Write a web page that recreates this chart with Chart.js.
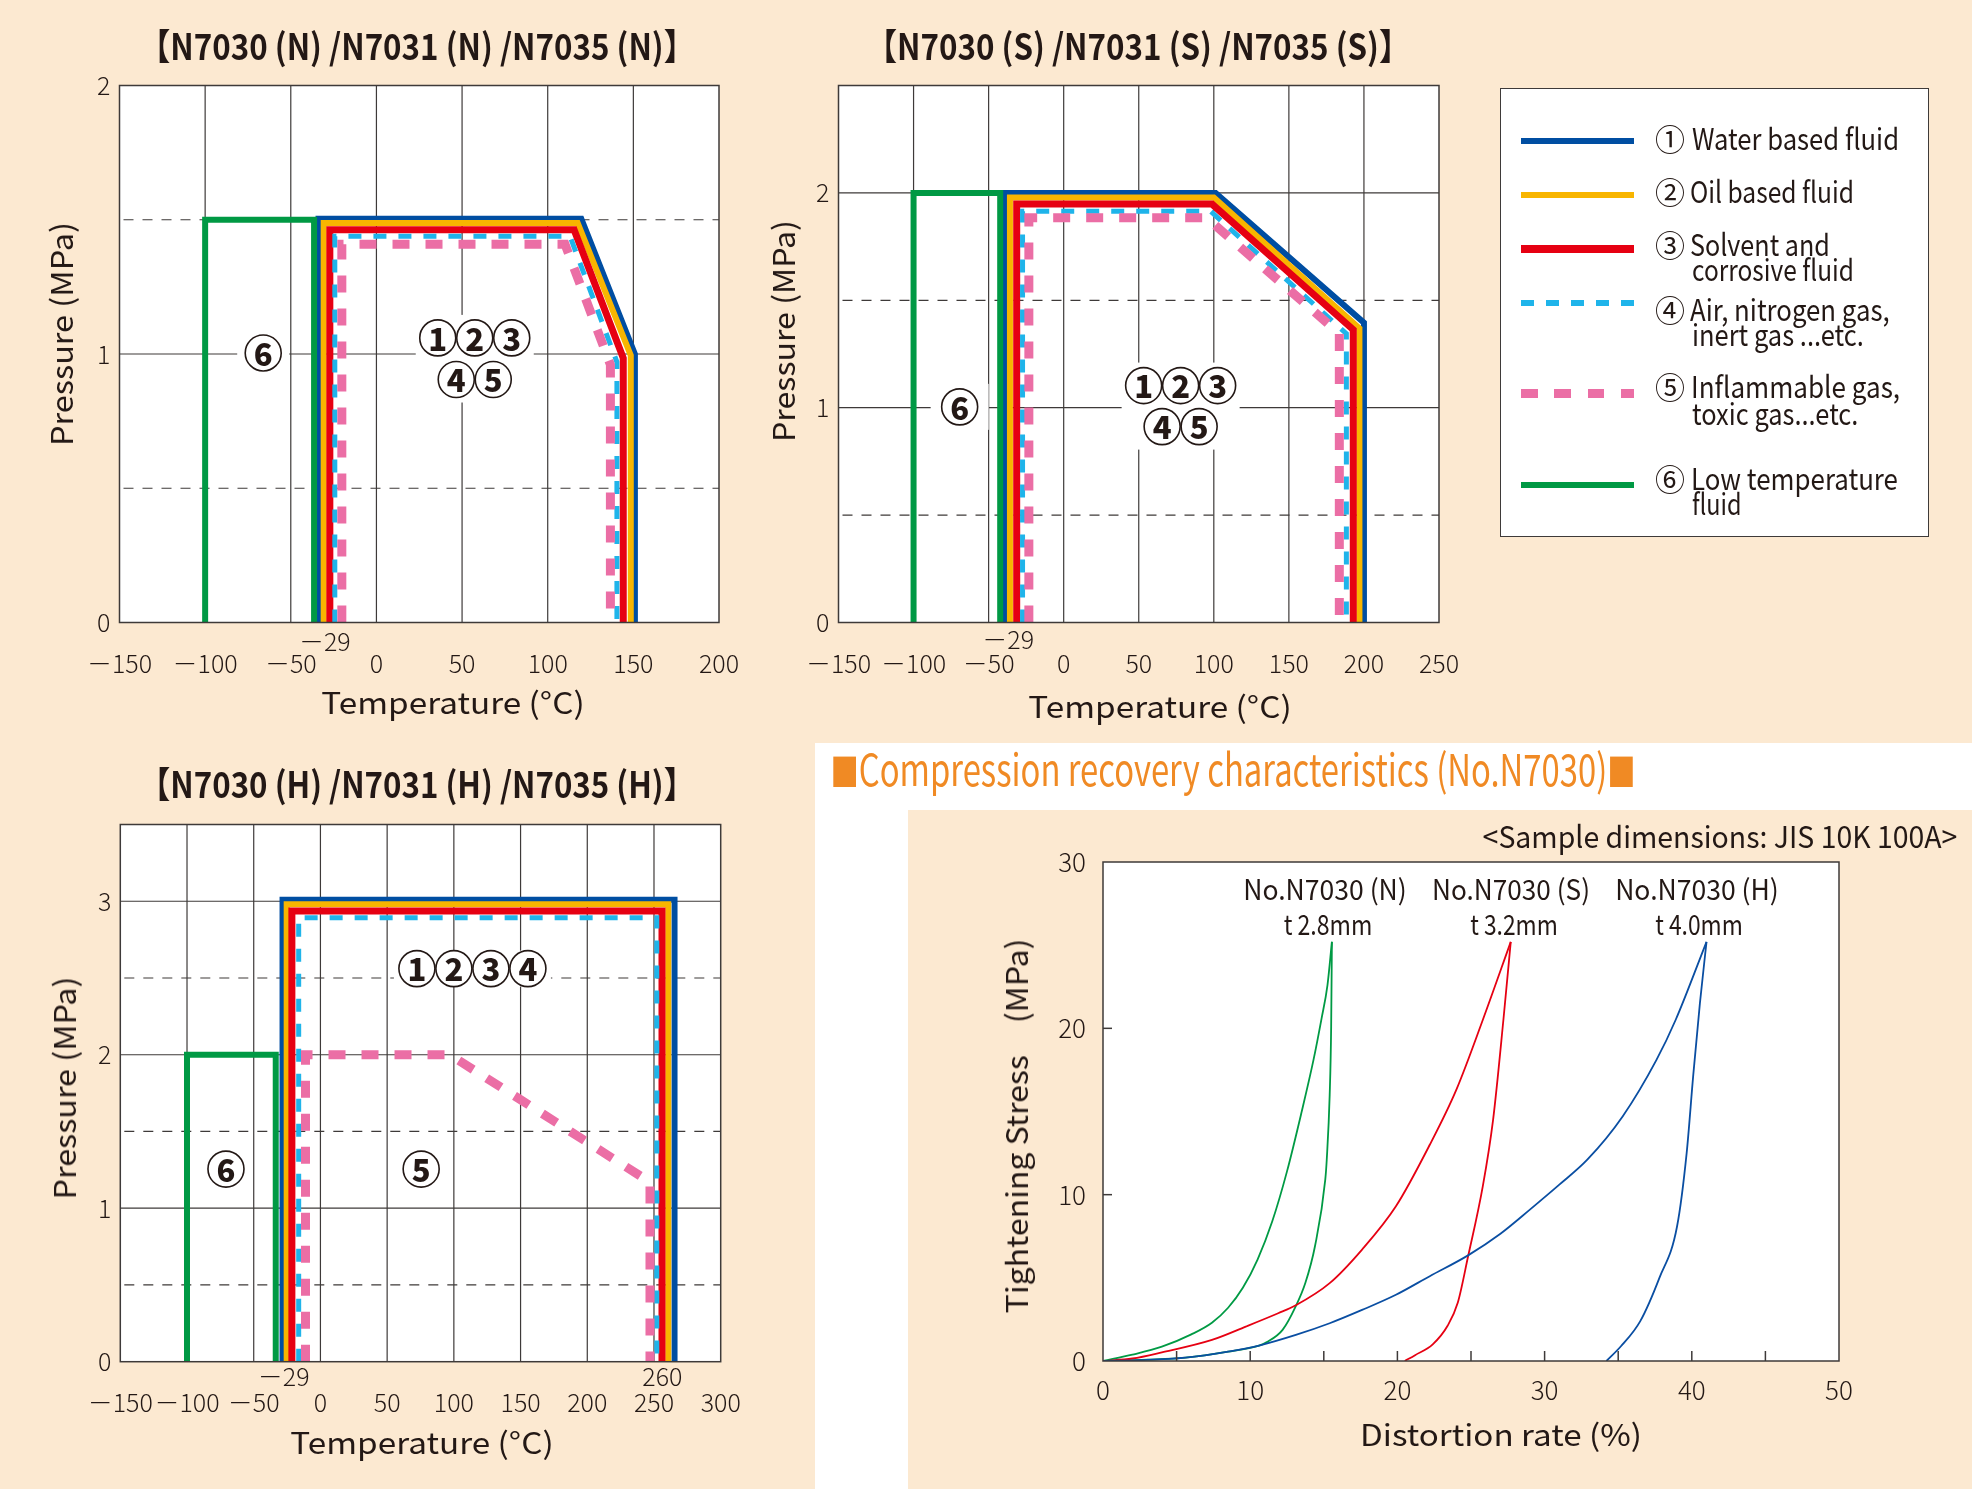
<!DOCTYPE html>
<html><head><meta charset="utf-8">
<script src="https://cdn.jsdelivr.net/npm/chart.js@4.4.1/dist/chart.umd.min.js"></script>
<style>
html,body{margin:0;padding:0}
body{width:1972px;height:1489px;position:relative;overflow:hidden;background:#fce9d1;font-family:'Noto Sans CJK JP','Noto Sans',sans-serif;color:#231815}
.bg{position:absolute}
canvas{position:absolute;left:0;top:0}
.t{position:absolute;white-space:nowrap;line-height:1}
#legend{position:absolute;left:1500px;top:88px;width:429px;height:449px;box-sizing:border-box;background:#fff;border:1.5px solid #3e3a39}
.sw{position:absolute;height:6px}
</style></head><body>
<div class="bg" style="left:815px;top:743px;width:1157px;height:746px;background:#fff"></div>
<div class="bg" style="left:908px;top:810px;width:1064px;height:679px;background:#fce9d1"></div>
<div id="legend"></div>
<canvas id="cN" width="1972" height="1489" style="width:1972px;height:1489px"></canvas>
<canvas id="cS" width="1972" height="1489" style="width:1972px;height:1489px"></canvas>
<canvas id="cH" width="1972" height="1489" style="width:1972px;height:1489px"></canvas>
<canvas id="cR" width="1972" height="1489" style="width:1972px;height:1489px"></canvas>
<script>
// ---------------- DATA ----------------
// Temperature (°C) / Pressure (MPa) envelopes, N grade
const nTempTicks = [-150, -100, -50, 0, 50, 100, 150, 200];
const nPresTicks = [0, 1, 2];
const nWaterT = [-33.8, -33.8, 119.6, 150.9, 150.9];
const nWaterP = [0, 1.504, 1.504, 1.0, 0];
const nOilT = [-30.8, -30.8, 117.5, 148.5, 148.5];
const nOilP = [0, 1.488, 1.488, 0.995, 0];
const nSolventT = [-27.2, -27.2, 115.4, 144.1, 144.1];
const nSolventP = [0, 1.463, 1.463, 0.985, 0];
const nAirT = [-24.3, -24.3, 113.0, 140.4, 140.4];
const nAirP = [0, 1.439, 1.439, 0.97, 0];
const nGasT = [-20.2, -20.2, 110.1, 136.6, 136.6];
const nGasP = [0, 1.409, 1.409, 0.96, 0];
const nLowT = [-100, -100, -36.4, -36.4];
const nLowP = [0, 1.5, 1.5, 0];

// S grade
const sTempTicks = [-150, -100, -50, 0, 50, 100, 150, 200, 250];
const sPresTicks = [0, 1, 2];
const sWaterT = [-38.7, -38.7, 101.2, 200.0, 200.0];
const sWaterP = [0, 2.0, 2.0, 1.396, 0];
const sOilT = [-35.8, -35.8, 100.0, 197.0, 197.0];
const sOilP = [0, 1.979, 1.979, 1.37, 0];
const sSolventT = [-31.3, -31.3, 98.8, 192.9, 192.9];
const sSolventP = [0, 1.948, 1.948, 1.363, 0];
const sAirT = [-27.4, -27.4, 97.8, 188.3, 188.3];
const sAirP = [0, 1.915, 1.915, 1.345, 0];
const sGasT = [-23.2, -23.2, 95.2, 183.6, 183.6];
const sGasP = [0, 1.884, 1.884, 1.345, 0];
const sLowT = [-100, -100, -42.3, -42.3];
const sLowP = [0, 2.0, 2.0, 0];

// H grade
const hTempTicks = [-150, -100, -50, 0, 50, 100, 150, 200, 250, 300];
const hPresTicks = [0, 1, 2, 3];
const hWaterT = [-28.4, -28.4, 265.4, 265.4];
const hWaterP = [0, 3.01, 3.01, 0];
const hOilT = [-25.3, -25.3, 260.7, 260.7];
const hOilP = [0, 2.98, 2.98, 0];
const hSolventT = [-21.4, -21.4, 256.0, 256.0];
const hSolventP = [0, 2.937, 2.937, 0];
const hAirT = [-16.3, -16.3, 252.1, 252.1];
const hAirP = [0, 2.893, 2.893, 0];
const hGasT = [-11.2, -11.2, 97.0, 247.0, 247.0];
const hGasP = [0, 2.0, 2.0, 1.17, 0];
const hLowT = [-100, -100, -33.5, -33.5];
const hLowP = [0, 2.0, 2.0, 0];

// Compression recovery: distortion rate (%) vs tightening stress (MPa)
const rateTicks = [0, 10, 20, 30, 40, 50];
const stressTicks = [0, 10, 20, 30];
const nLoadRate = [0, 2, 4, 6, 7.4, 8.5, 9.5, 10.5, 11.5, 12.5, 13.5, 14.3, 14.85, 15.25, 15.55];
const nLoadStress = [0, 0.38, 0.86, 1.6, 2.3, 3.2, 4.4, 6.1, 8.4, 11.4, 15.0, 18.1, 20.6, 22.6, 25.2];
const nUnloadRate = [0, 3, 5.6, 8.5, 10.6, 11.1, 12.2, 13.1, 13.75, 14.4, 15.1, 15.2, 15.4, 15.5, 15.55];
const nUnloadStress = [0, 0.08, 0.2, 0.56, 0.93, 1.12, 1.87, 3.3, 4.7, 6.9, 10.9, 12.1, 16.0, 20.1, 25.2];
const sLoadRate = [0, 2, 4, 7.4, 9.7, 11.9, 13.1, 15.4, 17.6, 19.9, 22.2, 24.0, 25.8, 27.7];
const sLoadStress = [0, 0.15, 0.52, 1.27, 2.07, 2.87, 3.35, 4.68, 6.7, 9.3, 13.0, 16.3, 20.5, 25.2];
const sUnloadRate = [20.5, 21.2, 22.4, 23.4, 24.1, 24.8, 25.8, 26.5, 27.2, 27.7];
const sUnloadStress = [0, 0.35, 1.0, 2.1, 3.5, 6.28, 10.5, 14.5, 20.5, 25.2];
const hLoadRate = [0, 2.5, 5.6, 8.5, 10.6, 13.1, 15.4, 17.6, 19.9, 22.2, 24.8, 27.0, 29.0, 31.0, 32.9, 35.3, 37.6, 38.9, 41.0];
const hLoadStress = [0, 0.05, 0.2, 0.56, 0.93, 1.57, 2.27, 3.07, 3.98, 5.1, 6.35, 7.65, 9.1, 10.6, 12.1, 14.7, 18.1, 20.5, 25.2];
const hUnloadRate = [34.2, 35.2, 36.5, 37.8, 39.0, 39.65, 40.1, 40.55, 41.0];
const hUnloadStress = [0, 0.9, 2.4, 5.0, 8.1, 12.5, 17.2, 21.5, 25.2];

// Region labels (circled numbers) in data coordinates
const nBadges = [{rows:[{x:57.4, y:1.06, n:'123'}, {x:57.4, y:0.905, n:'45'}], px:4, py:5},
                 {rows:[{x:-66.1, y:1.004, n:'6'}], px:8, py:5}];
const sBadges = [{rows:[{x:77.9, y:1.103, n:'123'}, {x:77.9, y:0.912, n:'45'}], px:4, py:5},
                 {rows:[{x:-69.3, y:1.004, n:'6'}], px:11, py:5}];
const hBadges = [{rows:[{x:113.9, y:2.561, n:'1234'}], px:5, py:0},
                 {rows:[{x:75.5, y:1.255, n:'5'}], px:4, py:4},
                 {rows:[{x:-70.8, y:1.255, n:'6'}], px:4, py:4}];
const nMarks = [{v:-29, t:'−29', dx:-2, dy:19}];
const sMarks = [{v:-29, t:'−29', dx:-12, dy:17}];
const hMarks = [{v:-29, t:'−29', dx:2, dy:15}, {v:260, t:'260', dx:-5, dy:15}];

// ---------------- STYLE ----------------
const W = 1972, H = 1489, AX = 60;
const TXT = '#231815', GRID = '#3e3a39';
const C = {water:'#004ea2', oil:'#f8b500', solvent:'#e60012', air:'#1fb4ea', gas:'#eb6ea5', low:'#009944'};
function hasFont(f){const c=document.createElement('canvas').getContext('2d');const s='0123456789abcdefghWM';c.font='40px monospace';const w1=c.measureText(s).width;c.font='40px "'+f+'", monospace';return Math.abs(c.measureText(s).width-w1)>0.5;}
const NARROW = hasFont('Liberation Sans Narrow');
const tickFamily = NARROW ? "'Liberation Sans Narrow','Noto Sans CJK JP',sans-serif" : "'Noto Sans CJK JP',sans-serif";
const tickSize = NARROW ? 28 : 25;
const fmt = v => v < 0 ? '\uFF0D' + Math.abs(v) : String(v);

const decor = {
  id: 'decor',
  beforeDraw(chart, a, o) {
    const {ctx, chartArea: c} = chart;
    ctx.save(); ctx.fillStyle = '#fff'; ctx.fillRect(c.left, c.top, c.right - c.left, c.bottom - c.top); ctx.restore();
  },
  beforeDatasetsDraw(chart, a, o) {
    const {ctx, chartArea: c, scales: {x, y}} = chart;
    ctx.save();
    const ln = (x1, y1, x2, y2) => { ctx.beginPath(); ctx.moveTo(x1, y1); ctx.lineTo(x2, y2); ctx.stroke(); };
    ctx.strokeStyle = GRID; ctx.lineWidth = 1.2;
    (o.xGrid || []).forEach(v => { const p = x.getPixelForValue(v); ln(p, c.top, p, c.bottom); });
    (o.ySolid || []).forEach(v => { const p = y.getPixelForValue(v); ln(c.left, p, c.right, p); });
    ctx.setLineDash([10, 9]); ctx.strokeStyle = '#3e3a39'; ctx.lineWidth = 1.2;
    (o.yDashed || []).forEach(v => { const p = y.getPixelForValue(v); ln(c.left + 4, p, c.right, p); });
    ctx.setLineDash([]);
    const SP = 37, R = 18;
    (o.badges || []).forEach(g => {
      const rows = g.rows.map(r => ({cx: x.getPixelForValue(r.x), cy: y.getPixelForValue(r.y), n: r.n}));
      let l = 1e9, rr = -1e9, t = 1e9, b = -1e9;
      rows.forEach(r => { const h = (r.n.length - 1) / 2 * SP + R; l = Math.min(l, r.cx - h); rr = Math.max(rr, r.cx + h); t = Math.min(t, r.cy - R); b = Math.max(b, r.cy + R); });
      ctx.fillStyle = '#fff'; ctx.fillRect(l - g.px, t - g.py, rr - l + 2 * g.px, b - t + 2 * g.py);
      rows.forEach(r => {
        for (let i = 0; i < r.n.length; i++) {
          const cx = r.cx + (i - (r.n.length - 1) / 2) * SP;
          ctx.beginPath(); ctx.arc(cx, r.cy, R, 0, Math.PI * 2); ctx.fillStyle = '#fff'; ctx.fill();
          ctx.lineWidth = 1.6; ctx.strokeStyle = TXT; ctx.stroke();
          ctx.fillStyle = TXT; ctx.font = "900 31px 'Noto Sans CJK JP'"; ctx.textAlign = 'center'; ctx.textBaseline = 'middle';
          ctx.fillText(r.n[i], cx, r.cy + 1);
        }
      });
    });
    ctx.restore();
  },
  afterDatasetsDraw(chart, a, o) {
    const {ctx, chartArea: c, scales: {x, y}} = chart;
    ctx.save();
    ctx.strokeStyle = GRID; ctx.lineWidth = 1.5;
    ctx.strokeRect(c.left, c.top, c.right - c.left, c.bottom - c.top);
    const ln = (x1, y1, x2, y2) => { ctx.beginPath(); ctx.moveTo(x1, y1); ctx.lineTo(x2, y2); ctx.stroke(); };
    (o.xMarks || []).forEach(v => { const p = x.getPixelForValue(v); ln(p, c.bottom, p, c.bottom - 10); });
    (o.yMarks || []).forEach(v => { const p = y.getPixelForValue(v); ln(c.left, p, c.left + 9, p); });
    ctx.fillStyle = TXT; ctx.font = '300 ' + tickSize + 'px ' + tickFamily; ctx.textAlign = 'center'; ctx.textBaseline = 'middle';
    (o.marks || []).forEach(m => { ctx.fillText(m.t.replace('−', '\uFF0D'), x.getPixelForValue(m.v) + m.dx, c.bottom + m.dy); });
    ctx.restore();
  }
};

function poly(label, xs, ys, color, width, dash, order) {
  return {label, data: xs.map((v, i) => ({x: v, y: ys[i]})), showLine: true, borderColor: color, backgroundColor: color,
    borderWidth: width, borderDash: dash || [], pointRadius: 0, tension: 0, fill: false, order,
    borderJoinStyle: 'miter', borderCapStyle: 'butt'};
}
function curve(label, xs, ys, color) {
  return {label, data: xs.map((v, i) => ({x: v, y: ys[i]})), showLine: true, borderColor: color, backgroundColor: color,
    borderWidth: 1.8, pointRadius: 0, cubicInterpolationMode: 'monotone', fill: false};
}
function envelopeSets(p) {
  return [
    poly('⑥ Low temperature fluid', p.lowT, p.lowP, C.low, 6, null, 0),
    poly('⑤ Inflammable gas, toxic gas...etc.', p.gasT, p.gasP, C.gas, 9, [17, 16], 1),
    poly('④ Air, nitrogen gas, inert gas ...etc.', p.airT, p.airP, C.air, 5, [13, 12], 2),
    poly('③ Solvent and corrosive fluid', p.solT, p.solP, C.solvent, 7, null, 3),
    poly('② Oil based fluid', p.oilT, p.oilP, C.oil, 6, null, 4),
    poly('① Water based fluid', p.watT, p.watP, C.water, 6, null, 5)
  ];
}

function makeChart(id, area, xr, yr, xTicks, yTicks, datasets, dec, xPad, yPad, tfont) {
  return new Chart(document.getElementById(id), {
    type: 'scatter',
    data: {datasets},
    options: {
      responsive: false, animation: false, events: [],
      layout: {padding: {left: area.L - AX, top: area.T, right: W - area.R, bottom: H - area.B - AX}},
      plugins: {legend: {display: false}, tooltip: {enabled: false}, decor: dec},
      scales: {
        x: {type: 'linear', min: xr[0], max: xr[1],
          afterBuildTicks: s => { s.ticks = xTicks.map(v => ({value: v})); },
          afterFit: s => { s.height = AX; },
          grid: {display: false, drawTicks: false}, border: {display: false},
          ticks: {autoSkip: false, maxRotation: 0, minRotation: 0, padding: xPad, color: TXT, font: tfont, callback: v => fmt(v)}},
        y: {type: 'linear', min: yr[0], max: yr[1],
          afterBuildTicks: s => { s.ticks = yTicks.map(v => ({value: v})); },
          afterFit: s => { s.width = AX; },
          grid: {display: false, drawTicks: false}, border: {display: false},
          ticks: {autoSkip: false, padding: yPad, color: TXT, font: tfont, callback: v => fmt(v)}}
      }
    },
    plugins: [decor]
  });
}

const tFont = {family: tickFamily, size: tickSize, weight: '300'};
makeChart('cN', {L: 119.5, T: 85.5, R: 719, B: 622.5}, [-150, 200], [0, 2], nTempTicks, nPresTicks,
  envelopeSets({lowT: nLowT, lowP: nLowP, gasT: nGasT, gasP: nGasP, airT: nAirT, airP: nAirP, solT: nSolventT, solP: nSolventP, oilT: nOilT, oilP: nOilP, watT: nWaterT, watP: nWaterP}),
  {xGrid: [-100, -50, 0, 50, 100, 150], ySolid: [1], yDashed: [0.5, 1.5], badges: nBadges, marks: nMarks}, 26, 9, tFont);
makeChart('cS', {L: 838.5, T: 85.5, R: 1439, B: 622.5}, [-150, 250], [0, 2.5], sTempTicks, sPresTicks,
  envelopeSets({lowT: sLowT, lowP: sLowP, gasT: sGasT, gasP: sGasP, airT: sAirT, airP: sAirP, solT: sSolventT, solP: sSolventP, oilT: sOilT, oilP: sOilP, watT: sWaterT, watP: sWaterP}),
  {xGrid: [-100, -50, 0, 50, 100, 150, 200], ySolid: [1, 2], yDashed: [0.5, 1.5], badges: sBadges, marks: sMarks}, 26, 9, tFont);
makeChart('cH', {L: 120.3, T: 824.5, R: 720.7, B: 1361.7}, [-150, 300], [0, 3.5], hTempTicks, hPresTicks,
  envelopeSets({lowT: hLowT, lowP: hLowP, gasT: hGasT, gasP: hGasP, airT: hAirT, airP: hAirP, solT: hSolventT, solP: hSolventP, oilT: hOilT, oilP: hOilP, watT: hWaterT, watP: hWaterP}),
  {xGrid: [-100, -50, 0, 50, 100, 150, 200, 250], ySolid: [1, 2, 3], yDashed: [0.5, 1.5, 2.5], badges: hBadges, marks: hMarks}, 26, 9, tFont);
makeChart('cR', {L: 1103, T: 862, R: 1839, B: 1361}, [0, 50], [0, 30], rateTicks, stressTicks, [
    curve('No.N7030(H) unloading', hUnloadRate, hUnloadStress, '#0a4ea2'),
    curve('No.N7030(H) loading', hLoadRate, hLoadStress, '#0a4ea2'),
    curve('No.N7030(S) unloading', sUnloadRate, sUnloadStress, '#e60012'),
    curve('No.N7030(S) loading', sLoadRate, sLoadStress, '#e60012'),
    curve('No.N7030(N) unloading', nUnloadRate, nUnloadStress, '#009a44'),
    curve('No.N7030(N) loading', nLoadRate, nLoadStress, '#009a44')
  ],
  {xMarks: [5, 10, 15, 20, 25, 30, 35, 40, 45], yMarks: [10, 20]}, 14, 17, {family: tickFamily, size: NARROW ? 29 : 26, weight: '300'});

// ---------------- TEXT ----------------
function addText(o) {
  const el = document.createElement('div');
  el.className = 't';
  el.innerHTML = o.s;
  el.style.fontSize = o.size + 'px';
  el.style.fontWeight = o.wt || 400;
  el.style.color = o.color || TXT;
  document.body.appendChild(el);
  const w = el.offsetWidth;
  const s = o.w ? o.w / w : 1;
  el.style.left = o.x + 'px'; el.style.top = o.y + 'px';
  if (o.anchor === 'left') {
    el.style.transformOrigin = 'left center';
    el.style.transform = 'translateY(-50%) scaleX(' + s + ')';
  } else {
    el.style.transformOrigin = 'center center';
    el.style.transform = 'translate(-50%,-50%)' + (o.rot ? ' rotate(-90deg)' : '') + ' scaleX(' + s + ')';
  }
}
const texts = [
  {s: '【N7030 (N) /N7031 (N) /N7035 (N)】', x: 417, y: 44, w: 556, size: 36, wt: 700},
  {s: '【N7030 (S) /N7031 (S) /N7035 (S)】', x: 1138, y: 44, w: 545, size: 36, wt: 700},
  {s: '【N7030 (H) /N7031 (H) /N7035 (H)】', x: 417, y: 782, w: 556, size: 36, wt: 700},
  {s: 'Pressure (MPa)', x: 60, y: 334, w: 224, size: 30, rot: true},
  {s: 'Pressure (MPa)', x: 782, y: 331, w: 222, size: 30, rot: true},
  {s: 'Pressure (MPa)', x: 63, y: 1088, w: 223, size: 30, rot: true},
  {s: 'Temperature (°C)', x: 452.6, y: 701, w: 263, size: 30},
  {s: 'Temperature (°C)', x: 1159.5, y: 705, w: 263, size: 30},
  {s: 'Temperature (°C)', x: 421.5, y: 1441, w: 263, size: 30},
  {s: 'Tightening Stress　(MPa)', x: 1015, y: 1126, w: 375, size: 30, rot: true},
  {s: 'Distortion rate (%)', x: 1501, y: 1433, w: 282, size: 30},
  {s: '&lt;Sample dimensions: JIS 10K 100A&gt;', x: 1719.5, y: 835, w: 475, size: 30},
  {s: 'No.N7030 (N)', x: 1325, y: 888, w: 164, size: 28},
  {s: 't 2.8mm', x: 1328, y: 923, w: 89, size: 28},
  {s: 'No.N7030 (S)', x: 1511, y: 888, w: 158, size: 28},
  {s: 't 3.2mm', x: 1514, y: 923, w: 88, size: 28},
  {s: 'No.N7030 (H)', x: 1697, y: 888, w: 164, size: 28},
  {s: 't 4.0mm', x: 1699, y: 923, w: 88, size: 28},
  {s: '<span style="font-size:38px">■</span>Compression recovery characteristics (No.N7030)<span style="font-size:38px">■</span>', x: 1232.5, y: 767, w: 805, size: 44, color: '#f08a24'},
  // legend
  {s: '①', x: 1654.7, y: 137.3, w: 30, size: 31, anchor: 'left'},
  {s: 'Water based fluid', x: 1691.7, y: 137.3, w: 206.7, size: 30, anchor: 'left'},
  {s: '②', x: 1654.7, y: 190, w: 30, size: 31, anchor: 'left'},
  {s: 'Oil based fluid', x: 1690, y: 190, w: 164, size: 30, anchor: 'left'},
  {s: '③', x: 1654.7, y: 242.7, w: 30, size: 31, anchor: 'left'},
  {s: 'Solvent and', x: 1690, y: 242.7, w: 140, size: 30, anchor: 'left'},
  {s: 'corrosive fluid', x: 1692.3, y: 268.3, w: 161.7, size: 30, anchor: 'left'},
  {s: '④', x: 1654.7, y: 308.3, w: 30, size: 31, anchor: 'left'},
  {s: 'Air, nitrogen gas,', x: 1690, y: 308.3, w: 199.3, size: 30, anchor: 'left'},
  {s: 'inert gas ...etc.', x: 1692.3, y: 333.3, w: 171.7, size: 30, anchor: 'left'},
  {s: '⑤', x: 1654.7, y: 385, w: 30, size: 31, anchor: 'left'},
  {s: 'Inflammable gas,', x: 1690.7, y: 385, w: 209.3, size: 30, anchor: 'left'},
  {s: 'toxic gas...etc.', x: 1692.3, y: 411.7, w: 166, size: 30, anchor: 'left'},
  {s: '⑥', x: 1654.7, y: 476.7, w: 30, size: 31, anchor: 'left'},
  {s: 'Low temperature', x: 1690.7, y: 476.7, w: 207, size: 30, anchor: 'left'},
  {s: 'fluid', x: 1692.3, y: 501.7, w: 49.3, size: 30, anchor: 'left'}
];
texts.forEach(addText);

// legend swatches
const swatches = [
  {y: 140.7, h: 6, c: C.water},
  {y: 194.7, h: 6, c: C.oil},
  {y: 249, h: 8, c: C.solvent},
  {y: 303, h: 6, c: C.air, d: 12.7, p: 25},
  {y: 393.7, h: 9, c: C.gas, d: 16.7, p: 33.3},
  {y: 485, h: 6, c: C.low}
];
swatches.forEach(s => {
  const el = document.createElement('div');
  el.className = 'sw';
  el.style.left = '1520.7px'; el.style.width = '113.3px';
  el.style.top = (s.y - s.h / 2) + 'px'; el.style.height = s.h + 'px';
  el.style.background = s.d ? `repeating-linear-gradient(to right, ${s.c} 0 ${s.d}px, transparent ${s.d}px ${s.p}px)` : s.c;
  document.body.appendChild(el);
});
</script>
</body></html>
